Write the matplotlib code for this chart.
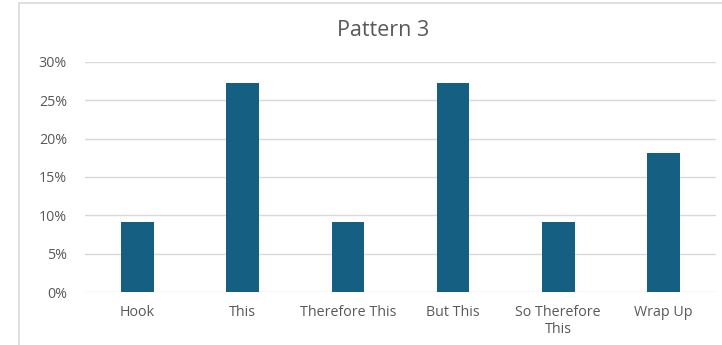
import matplotlib
matplotlib.use('Agg')
import matplotlib.pyplot as plt
from matplotlib.patches import Rectangle
from matplotlib.ticker import PercentFormatter

categories = ["Hook", "This", "Therefore This", "But This", "So Therefore\nThis", "Wrap Up"]
shares = [0.0909, 0.2727, 0.0909, 0.2727, 0.0909, 0.1818]
y_ticks = [0, 0.05, 0.10, 0.15, 0.20, 0.25, 0.30]

plt.rcParams['font.family'] = ['Open Sans', 'DejaVu Sans']

fig = plt.figure(figsize=(7.22, 3.45), dpi=100)
# chart frame (Excel-style outer border, cut off at bottom/right)
fig.patches.append(Rectangle((19 / 722, -0.05), 1.2, 1.05 - 3 / 345,
                             transform=fig.transFigure, fill=False,
                             edgecolor='#D9D9D9', linewidth=1.2))

ax = fig.add_axes([85 / 722, 1 - 292 / 345, 631 / 722, 230 / 345])
x = range(len(categories))
ax.bar(x, shares, width=0.31, color='#156082', zorder=3)

ax.set_xlim(-0.5, len(categories) - 0.5)
ax.set_ylim(0, 0.30)
ax.set_yticks(y_ticks)
ax.yaxis.set_major_formatter(PercentFormatter(1.0, decimals=0))
ax.set_xticks(list(x))
ax.set_xticklabels(categories, linespacing=1.25)
ax.tick_params(axis='both', length=0, labelsize=10.3, colors='#595959')
ax.tick_params(axis='y', pad=13)
ax.tick_params(axis='x', pad=9)
ax.grid(axis='y', color='#D9D9D9', linewidth=1, zorder=0)
for s in ax.spines.values():
    s.set_visible(False)

fig.text(383 / 722, 1 - 30 / 345, "Pattern 3", ha='center', va='center',
         fontsize=15.5, color='#595959')

fig.savefig('out.png', dpi=100)
